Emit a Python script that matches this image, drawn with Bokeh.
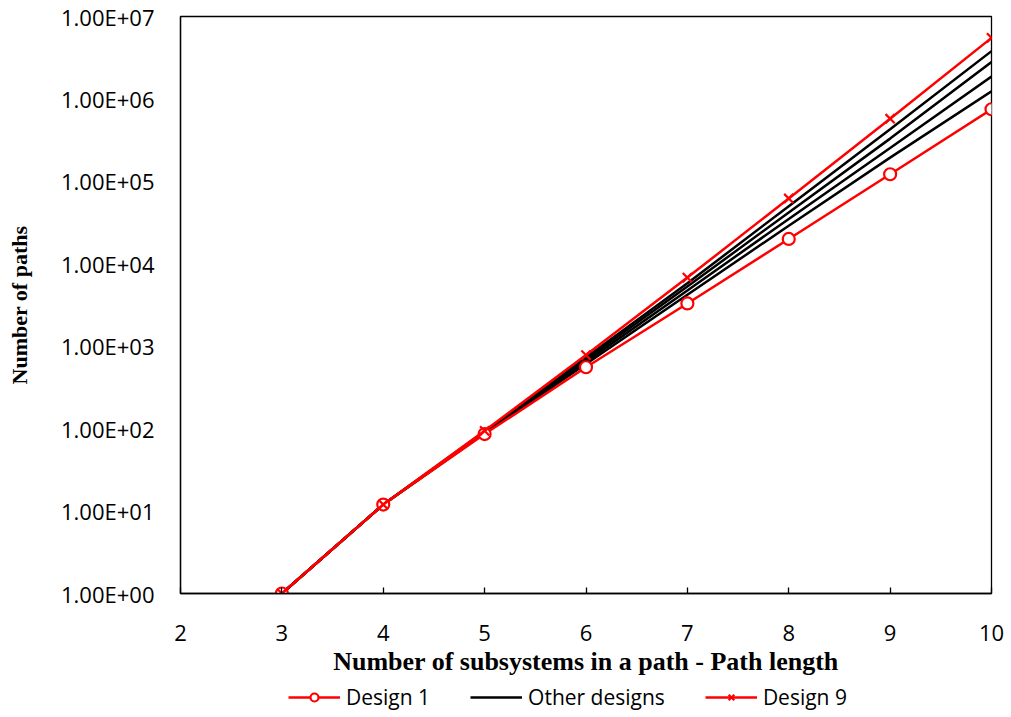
from bokeh.plotting import figure
from bokeh.layouts import column
from bokeh.models import Legend, LegendItem, FixedTicker, Range1d
from bokeh.embed import file_html
from bokeh.resources import INLINE

path_length = [3, 4, 5, 6, 7, 8, 9, 10]
design_1 = [1, 12, 86, 556, 3300, 20000, 122000, 750000]
design_9 = [1, 12, 94, 780, 6800, 62000, 575000, 5500000]
other_designs = [
    [1, 12, 92, 730, 5800, 50000, 428000, 3800000],
    [1, 12, 90, 690, 5300, 42000, 330000, 2800000],
    [1, 12, 89, 650, 4750, 35000, 254000, 1870000],
    [1, 12, 88, 610, 4200, 29000, 194000, 1240000],
]
x_ticks = [2, 3, 4, 5, 6, 7, 8, 9, 10]
y_ticks = [1, 10, 100, 1000, 10000, 100000, 1000000, 10000000]
y_tick_labels = ["1.00E+00", "1.00E+01", "1.00E+02", "1.00E+03",
                 "1.00E+04", "1.00E+05", "1.00E+06", "1.00E+07"]
legend_labels = ["Design 1", "Other designs", "Design 9"]

RED = "#FF0000"
TICK_FONT = "Open Sans"
TITLE_FONT = "Liberation Serif"

p = figure(width=1005, height=688, y_axis_type="log",
           x_range=Range1d(2, 10), y_range=Range1d(1, 1e7),
           output_backend="svg", toolbar_location=None,
           min_border_left=180, min_border_right=14, min_border_top=16,
           min_border_bottom=95)

p.grid.visible = False
p.outline_line_color = "black"
p.outline_line_width = 1.3
p.background_fill_color = "white"
p.border_fill_color = "white"

# axes
p.xaxis.ticker = FixedTicker(ticks=x_ticks)
p.yaxis.ticker = FixedTicker(ticks=y_ticks)
p.yaxis.major_label_overrides = {t: l for t, l in zip(y_ticks, y_tick_labels)}
p.xaxis.major_label_overrides = {t: str(t) for t in x_ticks}
for ax in (p.xaxis, p.yaxis):
    ax.axis_line_color = "black"
    ax.axis_line_width = 1.3
    ax.minor_tick_line_color = None
    ax.major_label_text_font = TICK_FONT
    ax.major_label_text_font_size = "22px"
    ax.major_label_text_color = "black"
    ax.axis_label_text_font = TITLE_FONT
    ax.axis_label_text_font_style = "bold"
    ax.axis_label_text_color = "black"
p.xaxis.axis_label_text_font_size = "26px"
p.yaxis.axis_label_text_font_size = "22px"
p.xaxis.major_tick_in = 6
p.xaxis.major_tick_out = 0
p.xaxis.major_tick_line_color = "black"
p.xaxis.major_tick_line_width = 1.3
p.yaxis.major_tick_in = 0
p.yaxis.major_tick_out = 0
p.xaxis.major_label_standoff = 31
p.yaxis.major_label_standoff = 26
p.xaxis.axis_label = "Number of subsystems in a path - Path length"
p.yaxis.axis_label = "Number of paths"
p.xaxis.axis_label_standoff = 3
p.yaxis.axis_label_standoff = 26

# other designs (black)
for vals in other_designs:
    p.line(path_length, vals, line_color="black", line_width=2.5)

# Design 1
p.line(path_length, design_1, line_color=RED, line_width=2.5)
p.scatter(path_length, design_1, marker="circle", size=12,
          line_color=RED, line_width=2.2, fill_color="white")
# Design 9
p.line(path_length, design_9, line_color=RED, line_width=2.5)
p.scatter(path_length, design_9, marker="x", size=13,
          line_color=RED, line_width=2.2)

# legend strip below the chart (series drawn outside its visible range,
# only used as legend glyph sources)
lg = figure(width=1005, height=29, x_range=Range1d(-100, -99),
            y_range=Range1d(-100, -99),
            output_backend="svg", toolbar_location=None,
            x_axis_location=None, y_axis_location=None,
            min_border_left=180, min_border_right=14, min_border_top=0,
            min_border_bottom=0)
lg.grid.visible = False
lg.outline_line_color = None
lg.background_fill_color = "white"
lg.border_fill_color = "white"
l1 = lg.line(path_length, design_1, line_color=RED, line_width=2.5)
m1 = lg.scatter(path_length, design_1, marker="circle", size=12, line_color=RED,
                line_width=2.2, fill_color="white")
l2 = lg.line(path_length, other_designs[0], line_color="black", line_width=2.5)
l3 = lg.line(path_length, design_9, line_color=RED, line_width=2.5)
m3 = lg.scatter(path_length, design_9, marker="x", size=13, line_color=RED,
                line_width=2.2)

legend = Legend(items=[
    LegendItem(label=legend_labels[0], renderers=[l1, m1]),
    LegendItem(label=legend_labels[1], renderers=[l2]),
    LegendItem(label=legend_labels[2], renderers=[l3, m3]),
], orientation="horizontal", location=(108, 6))
legend.label_text_font = TICK_FONT
legend.label_text_font_size = "21px"
legend.label_text_color = "black"
legend.label_height = 22
legend.glyph_width = 52
legend.glyph_height = 20
legend.label_standoff = 6
legend.spacing = 40
legend.padding = 0
legend.margin = 0
legend.border_line_color = None
legend.background_fill_alpha = 0
lg.add_layout(legend, "center")

layout = column(p, lg, spacing=0)
open("out.html", "w").write(file_html(layout, INLINE))
